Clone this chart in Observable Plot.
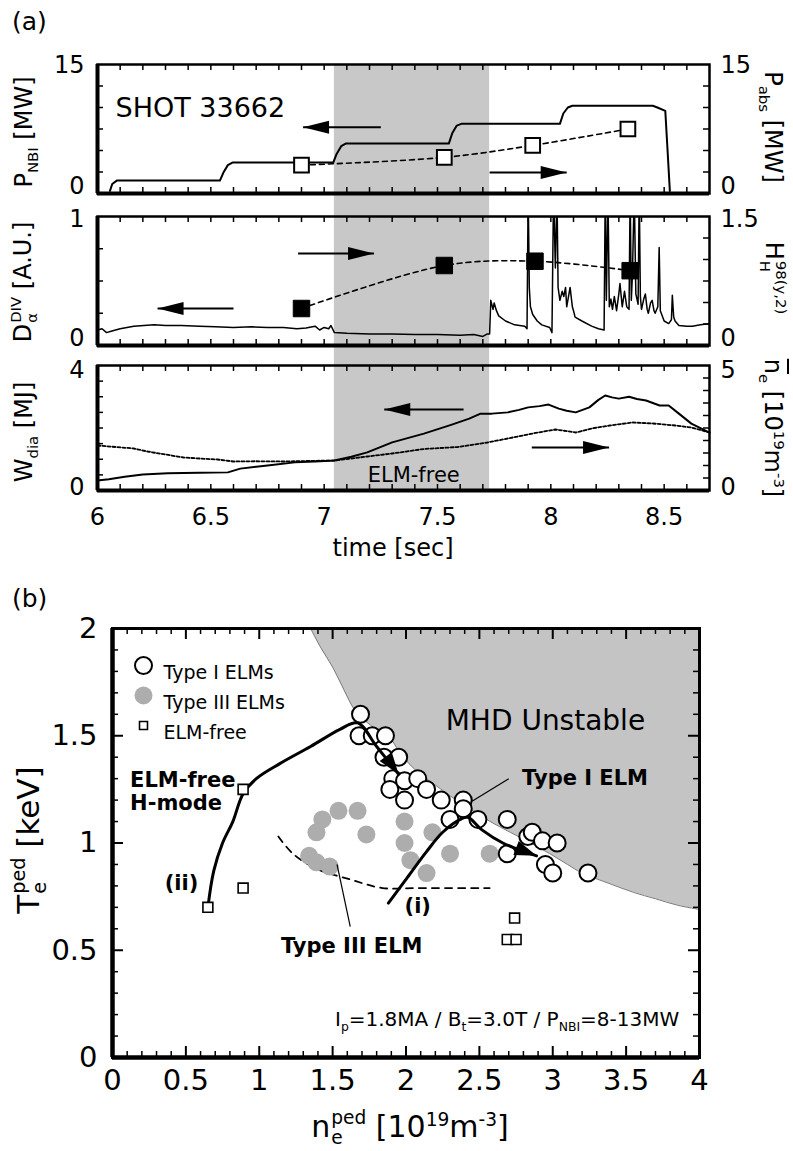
<!DOCTYPE html>
<html><head><meta charset="utf-8">
<script src="https://cdn.jsdelivr.net/npm/d3@7"></script>
<script src="https://cdn.jsdelivr.net/npm/@observablehq/plot@0.6"></script>
<style>
html,body{margin:0;padding:0;background:#fff}
#root{position:relative;width:793px;height:1151px;overflow:hidden;font-family:"DejaVu Sans",sans-serif;color:#000}
#root svg{position:absolute;left:0;overflow:visible}
.t{position:absolute;white-space:nowrap;line-height:1}
.c{transform:translate(-50%,-50%)}
.lm{transform:translate(0,-50%)}
.l{transform:translate(-50%,-50%) rotate(-90deg)}
.r{transform:translate(-50%,-50%) rotate(90deg)}
.t sub,.t sup{font-size:0.62em;line-height:0}
.stk{display:inline-block;vertical-align:middle;font-size:0.62em;line-height:1.08;text-align:left;margin-left:1px}
.stk>span{display:block}
</style></head>
<body><div id="root"></div>
<script>
// ---------------- Panel (a) data ----------------
const timeDomain = [6, 8.7];
const timeTickLabels = [6, 6.5, 7, 7.5, 8, 8.5];
const timeMinorTicks = [6.1,6.2,6.3,6.4,6.5,6.6,6.7,6.8,6.9,7.0,7.1,7.2,7.3,7.4,7.5,7.6,7.7,7.8,7.9,8.0,8.1,8.2,8.3,8.4,8.5,8.6];
const elmFreeWindow = [7.045, 7.73];

const pnbiT = [6.055,6.065,6.085,6.54,6.555,6.575,6.595,7.04,7.055,7.075,7.095,7.55,7.565,7.585,7.605,8.04,8.055,8.075,8.095,8.45,8.47,8.505,8.515,8.525];
const pnbiV = [0.3,1.1,1.5,1.5,2.4,3.3,3.6,3.6,4.6,5.5,5.8,5.8,7.0,7.9,8.1,8.1,9.3,10.0,10.2,10.2,10.0,9.6,5.0,0.3];
const pabsT = [6.9, 7.53, 7.92, 8.34];
const pabsV = [3.3, 4.2, 5.6, 7.5];

const dalphaT = [6.00,6.02,6.04,6.06,6.10,6.16,6.25,6.30,6.37,6.45,6.52,6.60,6.68,6.75,6.82,6.88,6.92,6.96,6.98,7.00,7.02,7.03,7.045,7.10,7.20,7.30,7.40,7.50,7.60,7.66,7.70,7.72,7.73,7.735,7.745,7.75,7.76,7.77,7.80,7.84,7.885,7.895,7.90,7.905,7.91,7.92,7.94,7.96,7.995,8.005,8.012,8.02,8.027,8.032,8.04,8.05,8.057,8.065,8.07,8.08,8.085,8.095,8.10,8.107,8.137,8.18,8.21,8.235,8.24,8.245,8.252,8.258,8.265,8.272,8.28,8.29,8.30,8.305,8.315,8.325,8.335,8.345,8.35,8.355,8.36,8.368,8.375,8.385,8.39,8.395,8.40,8.41,8.417,8.425,8.43,8.44,8.447,8.455,8.46,8.472,8.478,8.483,8.50,8.52,8.532,8.536,8.542,8.548,8.565,8.60,8.625,8.66,8.70];
const dalphaV = [0.12,0.13,0.10,0.11,0.13,0.15,0.16,0.155,0.155,0.15,0.145,0.14,0.145,0.14,0.14,0.13,0.135,0.15,0.12,0.14,0.13,0.155,0.10,0.095,0.09,0.09,0.085,0.085,0.08,0.085,0.07,0.09,0.09,0.35,0.28,0.33,0.27,0.23,0.19,0.16,0.15,0.13,1.2,0.45,0.30,0.24,0.19,0.16,0.14,0.10,1.2,0.6,1.2,0.45,0.35,0.42,0.38,0.45,0.30,0.40,0.45,0.30,0.27,0.22,0.19,0.15,0.13,0.12,1.2,0.35,1.2,0.30,0.36,0.28,0.38,0.27,0.40,0.48,0.30,0.42,0.30,0.28,1.2,0.35,0.55,1.2,0.40,0.32,1.2,0.38,0.28,0.36,0.40,0.28,0.25,0.33,0.35,0.27,0.25,0.30,0.76,0.27,0.19,0.17,0.20,0.39,0.22,0.19,0.155,0.15,0.15,0.16,0.17];
const hhT = [6.9, 7.53, 7.93, 8.35];
const hhV = [0.43, 0.93, 0.98, 0.87];          // right axis, 0..1.5

const wdiaT = [6.00,6.05,6.12,6.20,6.31,6.45,6.575,6.63,6.75,6.87,6.96,7.045,7.12,7.19,7.30,7.44,7.56,7.64,7.69,7.74,7.81,7.86,7.90,7.95,7.99,8.035,8.07,8.11,8.17,8.21,8.24,8.27,8.30,8.345,8.38,8.42,8.48,8.52,8.565,8.62,8.70];
const wdiaV = [0.32,0.36,0.44,0.51,0.55,0.57,0.58,0.70,0.80,0.90,0.93,0.96,1.08,1.22,1.54,1.82,2.10,2.30,2.46,2.46,2.50,2.58,2.66,2.70,2.75,2.62,2.55,2.50,2.66,2.90,3.04,2.98,2.94,3.00,2.93,2.88,2.72,2.72,2.46,2.14,1.85];
const neT = [6.00,6.08,6.16,6.22,6.30,6.38,6.45,6.53,6.60,6.70,6.82,6.92,7.045,7.12,7.19,7.30,7.44,7.59,7.72,7.81,7.92,8.02,8.11,8.18,8.26,8.36,8.45,8.55,8.62,8.70];
const neV = [1.80,1.74,1.68,1.56,1.44,1.32,1.28,1.24,1.16,1.17,1.16,1.18,1.20,1.28,1.36,1.48,1.66,1.74,1.92,2.08,2.28,2.44,2.32,2.48,2.60,2.72,2.68,2.60,2.52,2.32]; // right axis, 0..5

// annotation arrows (tail -> tip) in panel (a)
const arrows1 = [{tail: 7.25, tip: 6.907, y: 7.7}, {tail: 7.73, tip: 8.07, y: 2.45}];
const arrows2 = [{tail: 6.885, tip: 7.22, y: 0.713}, {tail: 6.60, tip: 6.265, y: 0.287}];
const arrows3 = [{tail: 7.615, tip: 7.265, y: 2.59}, {tail: 7.916, tip: 8.257, y: 1.376}];

// ---------------- Panel (b) data ----------------
const neTicks = [0, 0.5, 1, 1.5, 2, 2.5, 3, 3.5, 4];
const teTicks = [0, 0.5, 1, 1.5, 2];
const type1N = [1.69,1.68,1.77,1.86,1.85,1.95,1.91,1.89,1.99,2.08,1.99,2.14,2.24,2.39,2.39,2.30,2.49,2.69,2.83,2.86,2.93,3.03,2.69,2.95,3.00,3.24];
const type1T = [1.60,1.50,1.50,1.50,1.40,1.40,1.30,1.25,1.29,1.30,1.20,1.25,1.20,1.20,1.16,1.11,1.11,1.11,1.03,1.05,1.01,1.00,0.95,0.90,0.86,0.86];
const type3N = [1.43,1.54,1.67,1.39,1.73,1.99,1.99,2.18,1.34,1.39,1.48,2.03,2.30,2.57,2.14];
const type3T = [1.11,1.15,1.15,1.05,1.04,1.10,1.00,1.05,0.94,0.91,0.89,0.92,0.95,0.95,0.86];
const freeN = [0.65, 0.89, 0.89, 2.74, 2.69, 2.75];
const freeT = [0.70, 0.79, 1.25, 0.65, 0.55, 0.55];
const mhdN = [1.35,1.42,1.50,1.58,1.65,1.72,1.80,1.89,1.95,2.02,2.10,2.20,2.30,2.39,2.50,2.60,2.71,2.85,2.98,3.10,3.20,3.39,3.55,3.70,3.85,4.00];
const mhdT = [2.00,1.91,1.82,1.71,1.62,1.57,1.53,1.49,1.43,1.37,1.32,1.27,1.22,1.18,1.13,1.09,1.05,1.00,0.95,0.90,0.86,0.81,0.77,0.74,0.71,0.69];
const pathIIN = [0.65,0.69,0.75,0.82,0.89,0.98,1.14,1.35,1.55,1.67,1.80,1.95];
const pathIIT = [0.70,0.87,1.00,1.10,1.23,1.30,1.37,1.45,1.53,1.56,1.45,1.32];
const pathIN = [1.88,2.01,2.14,2.25,2.37,2.42,2.52,2.66,2.89];
const pathIT = [0.72,0.84,0.96,1.05,1.11,1.12,1.06,1.00,0.94];
const type3BoundN = [1.13,1.23,1.39,1.62,1.84,2.07,2.57];
const type3BoundT = [1.03,0.95,0.88,0.83,0.79,0.79,0.79];
const legendLabels = ["Type I ELMs", "Type III ELMs", "ELM-free"];

// ---------------- helpers ----------------
const zip = (a, b) => a.map((x, i) => ({x, y: b[i]}));
const root = document.getElementById("root");
const FONT = "DejaVu Sans";
const SHADE = "#c8c8c8";
const baseStyle = {fontFamily: FONT, fontSize: "24px", background: "none", overflow: "visible", color: "black"};
const head = (len, hw) => ({draw(ctx) { ctx.moveTo(0, 0); ctx.lineTo(-len, -hw); ctx.lineTo(-len, hw); ctx.closePath(); }});
const headA = head(26, 6.5);
const headB = head(22, 7.5);
const fmt = d => String(d);

function put(svg, top) { svg.style.top = top + "px"; root.appendChild(svg); }
function txt(html, x, y, size, cls, extra) {
  const d = document.createElement("div");
  d.className = "t " + cls;
  d.style.left = x + "px"; d.style.top = y + "px"; d.style.fontSize = size + "px";
  if (extra) d.style.cssText += extra;
  d.innerHTML = html;
  root.appendChild(d);
}
function ticks(fh, fw, xs, yl, yr, len, sw = 1.5) {
  return [
    Plot.tickX(xs, {x: d => d, insetTop: fh - len, stroke: "black", strokeWidth: sw}),
    Plot.tickX(xs, {x: d => d, insetBottom: fh - len, stroke: "black", strokeWidth: sw}),
    Plot.tickY(yl, {y: d => d, insetRight: fw - len, stroke: "black", strokeWidth: sw}),
    Plot.tickY(yr, {y: d => d, insetLeft: fw - len, stroke: "black", strokeWidth: sw})
  ];
}
// end-of-range tick labels: top label nudged down, bottom label nudged up (as in the original)
function yLabels(lo, hi, rightHi, dyLo, dyHi) {
  const o = {tickSize: 0, fontSize: 24, label: null};
  return [
    Plot.axisY([lo], {...o, anchor: "left", tickPadding: 13, dy: dyLo, tickFormat: fmt}),
    Plot.axisY([hi], {...o, anchor: "left", tickPadding: 13, dy: dyHi, tickFormat: fmt}),
    Plot.axisY([lo], {...o, anchor: "right", tickPadding: 11, dy: dyLo, tickFormat: fmt}),
    Plot.axisY([hi], {...o, anchor: "right", tickPadding: 11, dy: dyHi, tickFormat: () => rightHi})
  ];
}
function arrowMarks(list) {
  return [
    Plot.link(list, {x1: "tail", x2: "tip", y1: "y", y2: "y", stroke: "black", strokeWidth: 2}),
    Plot.dot(list, {x: "tip", y: "y", symbol: headA, r: 5, fill: "black", stroke: "none", rotate: d => d.tip < d.tail ? 180 : 0})
  ];
}
const ML = 97, MR = 84, FW = 793 - ML - MR;
const shade = (it, ib) => Plot.rect([elmFreeWindow], {x1: d => d[0], x2: d => d[1], fill: SHADE, insetTop: it, insetBottom: ib});
const r6 = (a, b, s) => { const o = []; for (let v = a; v < b - 1e-9; v += s) o.push(+v.toFixed(4)); return o; };

// ---------- subplot 1 : P_NBI / P_abs ----------
{
  const fh = 129;
  const p = Plot.plot({
    width: 793, height: 12 + fh + 12, marginLeft: ML, marginRight: MR, marginTop: 12, marginBottom: 12,
    x: {domain: timeDomain, axis: null}, y: {domain: [0, 15], axis: null}, style: baseStyle,
    marks: [
      shade(0, -12),
      ...ticks(fh, FW, timeMinorTicks, r6(2.5, 15, 2.5), r6(2.5, 15, 2.5), 6),
      Plot.line(zip(pnbiT, pnbiV), {x: "x", y: "y", stroke: "black", strokeWidth: 2}),
      Plot.line(zip(pabsT, pabsV), {x: "x", y: "y", stroke: "black", strokeWidth: 1.6, strokeDasharray: "5,4", curve: "catmull-rom"}),
      Plot.dot(zip(pabsT, pabsV), {x: "x", y: "y", symbol: "square", r: 8.3, fill: "white", stroke: "black", strokeWidth: 2}),
      ...arrowMarks(arrows1),
      Plot.text(["SHOT 33662"], {frameAnchor: "top-left", dx: 18, dy: 33, text: d => d, textAnchor: "start", fontSize: 27}),
      ...yLabels(0, 15, "15", -7, 1),
      Plot.frame({stroke: "black", strokeWidth: 2.5}),
      Plot.ruleX([6], {stroke: "black", strokeWidth: 4}),
      Plot.ruleY([0], {stroke: "black", strokeWidth: 4})
    ]
  });
  put(p, 52);
}
// ---------- subplot 2 : D_alpha / H_H ----------
{
  const fh = 129;
  const p = Plot.plot({
    width: 793, height: 11 + fh + 10, marginLeft: ML, marginRight: MR, marginTop: 11, marginBottom: 10,
    x: {domain: timeDomain, axis: null}, y: {domain: [0, 1], axis: null}, style: baseStyle,
    marks: [
      shade(-11, -10),
      ...ticks(fh, FW, timeMinorTicks, [0.25, 0.5, 0.75], [1,2,3,4,5].map(k => k * 0.25 / 1.5), 6),
      Plot.line(zip(dalphaT, dalphaV), {x: "x", y: "y", stroke: "black", strokeWidth: 1.5, clip: true}),
      Plot.line(zip(hhT, hhV.map(v => v / 1.5)), {x: "x", y: "y", stroke: "black", strokeWidth: 1.6, strokeDasharray: "5,4", curve: "catmull-rom"}),
      Plot.dot(zip(hhT, hhV.map(v => v / 1.5)), {x: "x", y: "y", symbol: "square", r: 9.3, fill: "black", stroke: "black", strokeWidth: 1}),
      ...arrowMarks(arrows2),
      ...yLabels(0, 1, "1.5", -7, 3),
      Plot.frame({stroke: "black", strokeWidth: 2.5}),
      Plot.ruleX([6], {stroke: "black", strokeWidth: 4}),
      Plot.ruleY([0], {stroke: "black", strokeWidth: 4})
    ]
  });
  put(p, 205);
}
// ---------- subplot 3 : W_dia / n_e ----------
{
  const fh = 125;
  const p = Plot.plot({
    width: 793, height: 10 + fh + 40, marginLeft: ML, marginRight: MR, marginTop: 10, marginBottom: 40,
    x: {domain: timeDomain}, y: {domain: [0, 4], axis: null}, style: baseStyle,
    marks: [
      shade(-10, 0),
      ...ticks(fh, FW, timeMinorTicks, r6(0.5, 4, 0.5), r6(0.4, 4, 0.4), 6),
      Plot.line(zip(neT, neV.map(v => v * 0.8)), {x: "x", y: "y", stroke: "black", strokeWidth: 1.8, strokeDasharray: "3,2"}),
      Plot.line(zip(wdiaT, wdiaV), {x: "x", y: "y", stroke: "black", strokeWidth: 2}),
      ...arrowMarks(arrows3),
      Plot.text(["ELM-free"], {x: 7.395, y: 0.48, text: d => d, fontSize: 21}),
      ...yLabels(0, 4, "5", -3, 5),
      Plot.axisX(timeTickLabels, {anchor: "bottom", tickSize: 0, tickPadding: 17, fontSize: 24, label: null, tickFormat: fmt}),
      Plot.frame({stroke: "black", strokeWidth: 2.5}),
      Plot.ruleX([6], {stroke: "black", strokeWidth: 4}),
      Plot.ruleY([0], {stroke: "black", strokeWidth: 4})
    ]
  });
  put(p, 355);
}

// ---------- panel (b) ----------
{
  const fh = 429, fw = 793 - 112 - 94;
  const minorX = r6(0.1, 4, 0.1).filter(v => Math.abs(v * 2 - Math.round(v * 2)) > 1e-6);
  const majorX = [0.5, 1, 1.5, 2, 2.5, 3, 3.5];
  const minorY = r6(0.1, 2, 0.1).filter(v => Math.abs(v * 2 - Math.round(v * 2)) > 1e-6);
  const majorY = [0.5, 1, 1.5];
  const p = Plot.plot({
    width: 793, height: 28 + fh + 45, marginLeft: 112, marginRight: 94, marginTop: 28, marginBottom: 45,
    x: {domain: [0, 4]}, y: {domain: [0, 2]}, style: baseStyle,
    marks: [
      Plot.area(zip(mhdN, mhdT), {x1: "x", y1: "y", y2: 2, fill: "#c4c4c4", curve: "catmull-rom"}),
      Plot.line(zip(mhdN, mhdT), {x: "x", y: "y", stroke: "#7a7a7a", strokeWidth: 1, curve: "catmull-rom"}),
      ...ticks(fh, fw, minorX, minorY, minorY, 6),
      ...ticks(fh, fw, majorX, majorY, majorY, 11, 2),
      Plot.line(zip(type3BoundN, type3BoundT), {x: "x", y: "y", stroke: "black", strokeWidth: 1.8, strokeDasharray: "7,6", curve: "catmull-rom"}),
      Plot.dot(zip(type3N, type3T), {x: "x", y: "y", r: 9, fill: "#adadad", stroke: "none"}),
      Plot.dot(zip(type1N, type1T), {x: "x", y: "y", r: 8.5, fill: "white", stroke: "black", strokeWidth: 2}),
      Plot.line(zip(pathIIN, pathIIT), {x: "x", y: "y", stroke: "black", strokeWidth: 3, curve: "catmull-rom"}),
      Plot.line(zip(pathIN, pathIT), {x: "x", y: "y", stroke: "black", strokeWidth: 3, curve: "catmull-rom"}),
      Plot.dot([0], {x: pathIIN[pathIIN.length - 1], y: pathIIT[pathIIT.length - 1], symbol: headB, r: 5, fill: "black", rotate: 54}),
      Plot.dot([0], {x: pathIN[pathIN.length - 1], y: pathIT[pathIT.length - 1], symbol: headB, r: 5, fill: "black", rotate: 21}),
      Plot.dot(zip(freeN, freeT), {x: "x", y: "y", symbol: "square", r: 5.6, fill: "white", stroke: "black", strokeWidth: 1.6}),
      // annotations
      Plot.text(["MHD Unstable"], {x: 2.95, y: 1.57, text: d => d, fontSize: 28}),
      Plot.text(["Type I ELM"], {x: 3.22, y: 1.30, text: d => d, fontSize: 21, fontWeight: "bold"}),
      Plot.link([0], {x1: 2.70, y1: 1.30, x2: 2.45, y2: 1.195, stroke: "black", strokeWidth: 1.2}),
      Plot.text(["Type III ELM"], {x: 1.63, y: 0.52, text: d => d, fontSize: 21, fontWeight: "bold"}),
      Plot.link([0], {x1: 1.62, y1: 0.61, x2: 1.53, y2: 0.90, stroke: "black", strokeWidth: 1.2}),
      Plot.text(["ELM-free\nH-mode"], {x: 0.12, y: 1.24, text: d => d, textAnchor: "start", lineHeight: 1.08, fontSize: 21, fontWeight: "bold"}),
      Plot.text(["(ii)"], {x: 0.47, y: 0.81, text: d => d, fontSize: 21, fontWeight: "bold"}),
      Plot.text(["(i)"], {x: 2.08, y: 0.705, text: d => d, fontSize: 21, fontWeight: "bold"}),
      // legend
      Plot.dot([0], {frameAnchor: "top-left", dx: 31, dy: 37, r: 8.5, fill: "white", stroke: "black", strokeWidth: 2}),
      Plot.dot([0], {frameAnchor: "top-left", dx: 31, dy: 67, r: 9, fill: "#adadad"}),
      Plot.dot([0], {frameAnchor: "top-left", dx: 31, dy: 97, symbol: "square", r: 4.5, fill: "white", stroke: "black", strokeWidth: 1.6}),
      Plot.text([legendLabels[0]], {frameAnchor: "top-left", dx: 51, dy: 37, text: d => d, textAnchor: "start", fontSize: 19}),
      Plot.text([legendLabels[1]], {frameAnchor: "top-left", dx: 51, dy: 67, text: d => d, textAnchor: "start", fontSize: 19}),
      Plot.text([legendLabels[2]], {frameAnchor: "top-left", dx: 51, dy: 97, text: d => d, textAnchor: "start", fontSize: 19}),
      // axes
      Plot.axisY(teTicks, {anchor: "left", tickSize: 0, tickPadding: 15, fontSize: 29, label: null, tickFormat: fmt}),
      Plot.axisX(neTicks, {anchor: "bottom", tickSize: 0, tickPadding: 12, fontSize: 29, label: null, tickFormat: fmt}),
      Plot.frame({stroke: "black", strokeWidth: 3}),
      Plot.ruleX([0], {stroke: "black", strokeWidth: 4.5}),
      Plot.ruleY([0], {stroke: "black", strokeWidth: 4.5})
    ]
  });
  put(p, 600);
}

// ---------- text labels ----------
txt("(a)", 12, 21, 25, "lm");
txt("(b)", 12, 598, 25, "lm");
txt("P<sub>NBI</sub> [MW]", 24, 132, 24, "l");
txt("D<span class='stk'><span>DIV</span><span>&alpha;</span></span> [A.U.]", 24, 282, 24, "l");
txt("W<sub>dia</sub> [MJ]", 24, 432, 24, "l");
txt("P<sub>abs</sub> [MW]", 773, 127, 24, "r");
txt("H<span class='stk'><span>98(y,2)</span><span>H</span></span>", 773, 278, 24, "r");
txt("<span style='text-decoration:overline'>n</span><sub>e</sub> [10<sup>19</sup>m<sup>-3</sup>]", 773, 428, 24, "r");
txt("time [sec]", 393, 548, 24, "c");
txt("T<span class='stk'><span>ped</span><span>e</span></span> [keV]", 30, 840, 31, "l");
txt("n<span class='stk'><span>ped</span><span>e</span></span> [10<sup>19</sup>m<sup>-3</sup>]", 410, 1128, 30, "c");
txt("I<sub>p</sub>=1.8MA / B<sub>t</sub>=3.0T / P<sub>NBI</sub>=8-13MW", 335, 1019, 20, "lm");
</script></body></html>
